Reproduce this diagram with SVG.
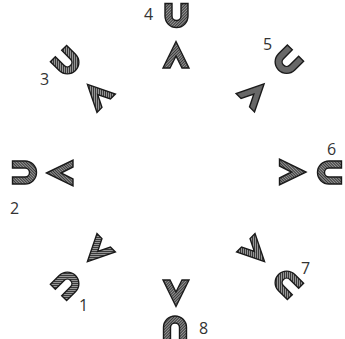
<svg xmlns="http://www.w3.org/2000/svg" xmlns:xlink="http://www.w3.org/1999/xlink" width="345" height="339" viewBox="0 0 345 339">
  <style>
    .shape { fill: url(#hatch); stroke: #1a1a1a; stroke-width: 1.4; stroke-linejoin: miter; }
    .lbl { font-family: "Open Sans", "Liberation Sans", sans-serif; font-size: 16px; fill: #333333; }
  </style>
  <defs>
    <pattern id="hatch" patternUnits="userSpaceOnUse" width="2" height="2" patternTransform="rotate(45)">
      <rect width="2" height="2" fill="#959595"/>
      <rect width="1" height="2" fill="#3a3a3a"/>
    </pattern>
    <path id="ushape" class="shape" d="M -11.5,-12 L -11.5,0.5 A 11.5,11.5 0 0 0 11.5,0.5 L 11.5,-12 L 4.5,-12 L 4.5,0.5 A 4.5,4.5 0 0 1 -4.5,0.5 L -4.5,-12 Z"/>
    <path id="chev" class="shape" d="M 0,-13.5 L 13,13 L 6,13 L 0,1 L -6,13 L -13,13 Z"/>
  </defs>
  <rect width="345" height="339" fill="#ffffff"/>
  <g id="connectors"></g>
  <g id="node1">
    <use xlink:href="#ushape" href="#ushape" transform="translate(67,284) rotate(-135)"/>
    <use xlink:href="#chev" href="#chev" transform="translate(97,252) rotate(-135)"/>
    <text class="lbl" x="79" y="311">1</text>
  </g>
  <g id="node2">
    <use xlink:href="#ushape" href="#ushape" transform="translate(24.5,172.5) rotate(-90)"/>
    <use xlink:href="#chev" href="#chev" transform="translate(60,173) rotate(-90)"/>
    <text class="lbl" x="10" y="214">2</text>
  </g>
  <g id="node3">
    <use xlink:href="#ushape" href="#ushape" transform="translate(67,62) rotate(-45)"/>
    <use xlink:href="#chev" href="#chev" transform="translate(97,94) rotate(-45)"/>
    <text class="lbl" x="40" y="85">3</text>
  </g>
  <g id="node4">
    <use xlink:href="#ushape" href="#ushape" transform="translate(176.5,15.5)"/>
    <use xlink:href="#chev" href="#chev" transform="translate(176,55)"/>
    <text class="lbl" x="144" y="20">4</text>
  </g>
  <g id="node5">
    <use xlink:href="#ushape" href="#ushape" transform="translate(287,61.5) rotate(45)"/>
    <use xlink:href="#chev" href="#chev" transform="translate(254.5,93.5) rotate(45)"/>
    <text class="lbl" x="263" y="50">5</text>
  </g>
  <g id="node6">
    <use xlink:href="#ushape" href="#ushape" transform="translate(329.5,172.5) rotate(90)"/>
    <use xlink:href="#chev" href="#chev" transform="translate(292.5,172) rotate(90)"/>
    <text class="lbl" x="327" y="155">6</text>
  </g>
  <g id="node7">
    <use xlink:href="#ushape" href="#ushape" transform="translate(287,283) rotate(135)"/>
    <use xlink:href="#chev" href="#chev" transform="translate(255,252) rotate(135)"/>
    <text class="lbl" x="301" y="274">7</text>
  </g>
  <g id="node8">
    <use xlink:href="#ushape" href="#ushape" transform="translate(175,328) rotate(180)"/>
    <use xlink:href="#chev" href="#chev" transform="translate(176,293) rotate(180)"/>
    <text class="lbl" x="199" y="334">8</text>
  </g>
</svg>
